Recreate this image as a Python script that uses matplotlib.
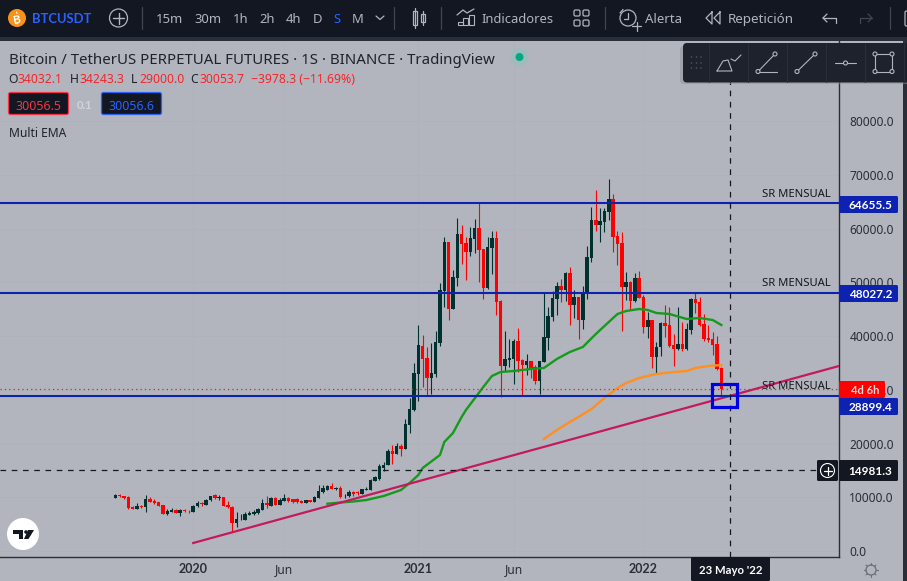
import matplotlib
matplotlib.use("Agg")
import matplotlib.pyplot as plt
import numpy as np
from matplotlib.patches import Rectangle, FancyBboxPatch, Circle, Polygon

plt.rcParams['font.family'] = ['Noto Sans', 'DejaVu Sans']
BOLD = ['Lato', 'Liberation Sans', 'DejaVu Sans']

# weekly BTCUSDT perpetual candles
opens = [9926, 10484, 10298, 10112, 8128, 7880, 8376, 8252, 9678, 9306,
         9120, 8562, 6950, 7322, 7694, 7136, 7632, 7508, 7260, 8314,
         8872, 8624, 9430, 10360, 9926, 10050, 8562, 8252, 5276, 5896,
         5834, 6764, 6888, 7012, 7694, 8996, 8376, 9926, 8624, 9368,
         9926, 9616, 9616, 9368, 8996, 9430, 9120, 9864, 10980, 11414,
         12158, 11600, 11724, 10174, 10298, 10980, 10918, 10670, 11414, 11352,
         13088, 13336, 15444, 16064, 18605, 18047, 19535, 18977, 23442, 26233,
         32941, 38149, 35917, 32197, 32941, 38769, 48441, 57493, 45031, 50859,
         58981, 57369, 55633, 58051, 60097, 56191, 48937, 56377, 58237, 46519,
         34429, 35545, 35731, 39079, 35545, 34615, 35359, 34243, 31639, 35173,
         39637, 43543, 46891, 49309, 48565, 51727, 45775, 47263, 42985, 48007,
         54517, 61585, 60655, 61213, 63073, 65491, 58609, 57307, 49123, 50053,
         46519, 50797, 47263, 41683, 42985, 36103, 37963, 42427, 42055, 38335,
         37591, 38521, 37591, 41125, 46891, 46333, 42241, 39637, 39451, 38521,
         34032.1]
closes = [10484, 10298, 9864, 8004, 7880, 8376, 8252, 9616, 9182, 8996,
          8438, 6950, 7508, 7632, 7136, 7632, 7384, 7384, 8376, 8996,
          8686, 9554, 10236, 9864, 10050, 8438, 8190, 5276, 5958, 5958,
          6888, 7136, 7260, 7880, 8934, 8562, 9864, 8624, 9554, 9864,
          9244, 9182, 9120, 8996, 9430, 9120, 9988, 11166, 11662, 12096,
          11600, 11724, 9988, 10298, 11042, 10546, 10732, 11476, 11538, 13212,
          13708, 15816, 16064, 18668, 18047, 19535, 18977, 23628, 26419, 33127,
          38335, 35731, 32197, 33127, 38893, 48565, 57493, 45031, 50983, 58981,
          57121, 55633, 58237, 60097, 56005, 48937, 56563, 58237, 46333, 34429,
          35731, 35917, 39079, 35359, 34615, 35359, 33871, 31639, 35359, 39823,
          43729, 47077, 49309, 48565, 51727, 45775, 47263, 42985, 48193, 54703,
          61585, 60655, 61399, 63259, 65491, 58423, 57121, 49123, 50053, 46519,
          50797, 47077, 41683, 42985, 36103, 37963, 42427, 41869, 38149, 37591,
          38521, 37591, 41311, 46891, 46147, 42055, 39451, 39265, 38335, 33871,
          30053.7]
highs = [10608, 10670, 10298, 10236, 8438, 8872, 8562, 10422, 10050, 9616,
         9182, 8562, 7880, 7942, 7756, 7756, 7756, 7632, 8500, 9368,
         9058, 9678, 10298, 10670, 10422, 10112, 9306, 8314, 7198, 6950,
         7260, 7508, 7632, 8004, 9740, 10236, 9988, 9988, 9802, 10546,
         10050, 9740, 9802, 9492, 9492, 9492, 10236, 12282, 12282, 12282,
         12654, 11972, 12096, 10608, 11352, 11166, 11166, 11600, 11848, 13398,
         14018, 16188, 16498, 18916, 19721, 20093, 19907, 24559, 28466, 34977,
         42055, 40195, 38025, 38645, 40939, 49867, 58423, 57493, 52285, 61957,
         60655, 58423, 60283, 61771, 64933, 56191, 58423, 59539, 59539, 46705,
         40939, 39451, 39451, 41497, 35731, 36661, 35359, 34615, 35359, 48193,
         45403, 48379, 50053, 50611, 51913, 52843, 48565, 47263, 49309, 56749,
         64003, 67165, 63817, 63817, 69211, 66421, 59539, 59353, 51913, 50239,
         51727, 52099, 47635, 44473, 42985, 38893, 42613, 45775, 45403, 40381,
         45403, 42613, 42427, 47077, 48193, 47263, 44101, 42055, 40753, 40009,
         34243.3]
lows = [9802, 10112, 9616, 7880, 7818, 7756, 8004, 7322, 9120, 8748,
        8376, 6888, 6702, 7198, 7074, 6578, 7260, 7012, 7198, 8252,
        8376, 8562, 9368, 9678, 9554, 8376, 8004, 3602, 4470, 5772,
        5772, 6640, 6764, 6888, 7632, 8004, 8314, 8500, 8562, 9306,
        9120, 8996, 8996, 8934, 8934, 9058, 9058, 9802, 10856, 11290,
        11476, 11290, 9802, 9802, 10112, 10298, 10360, 10546, 11352, 11290,
        12964, 13212, 14948, 15940, 16186, 18047, 17675, 18977, 21954, 26047,
        27981, 30585, 28849, 29221, 32445, 38211, 45403, 42985, 45031, 49309,
        53401, 50425, 54889, 55447, 50053, 46891, 48751, 51541, 43915, 28663,
        33499, 34243, 31081, 33313, 28849, 32755, 32197, 31081, 29221, 35173,
        37405, 42799, 43915, 46333, 46519, 42055, 43357, 39451, 41249, 46891,
        53773, 59539, 57493, 59353, 61585, 55633, 53215, 40939, 46705, 45031,
        46333, 47077, 40567, 39637, 34057, 32941, 36289, 39823, 37963, 34429,
        37405, 37219, 37405, 40381, 44287, 41869, 39079, 38893, 36475, 33685,
        29000.0]

# Multi EMA sampled on the same week numbering
ema_green_w = [49, 52, 55, 58, 62, 66, 68, 70, 71, 75, 76, 78, 80, 81, 85, 87, 89, 92, 96, 99,
               102, 105, 108, 111, 114, 116, 118, 121, 123, 125, 128, 132, 135, 138, 140]
ema_green = [8800, 9023, 9210, 9489, 10233, 11349, 12651, 14140, 15442, 17861, 20279, 21954,
             24931, 26233, 30512, 32559, 33303, 33489, 33861, 34047, 35722, 37024, 37954, 40373,
             42605, 44094, 44652, 45024, 44838, 44280, 44094, 43164, 43350, 42977, 42047]
ema_orange_w = [99, 102, 105, 107, 110, 113, 116, 118, 121, 125, 129, 132, 134, 137, 140]
ema_orange = [20837, 22512, 24000, 24931, 26419, 28466, 30326, 31256, 32187, 32931,
              33303, 33489, 34047, 34419, 34605]

# drawn levels
sr_levels = [64655.5, 48027.2, 28899.4]
trend_w = [18, 167.17]
trend_p = [1488, 34419]
last_price = 30053.7
cross_price = 14981.3
cross_week = 142
x_ticks = [18, 39, 70, 92, 122]
x_labels = ['2020', 'Jun', '2021', 'Jun', '2022']
y_ticks = [0, 10000, 20000, 30000, 40000, 50000, 60000, 70000, 80000]

W, H = 907, 581
DARK = '#131722'
PANEL = '#1e222d'
BG = '#b2b5be'
GREY = '#b2b5be'
BLUE = '#0d22b0'
fig = plt.figure(figsize=(W / 100, H / 100), dpi=100, facecolor='#2a2e39')


def box(left, top, right, bottom):
    return [left / W, 1 - bottom / H, (right - left) / W, (bottom - top) / H]


# price scale background behind the main axes
back = fig.add_axes([0, 0, 1, 1], zorder=0)
back.set_xlim(0, W)
back.set_ylim(H, 0)
back.axis('off')
back.add_patch(Rectangle((0, 41), 903, 540, color=BG, lw=0))

ax = fig.add_axes(box(0, 41, 839, 557), zorder=1, facecolor=BG)
ax.set_xlim(-26.63, 167.17)
ax.set_ylim(-1116, 94885)

weeks = np.arange(len(opens))
o = np.array(opens)
c = np.array(closes)
colors = ['#ff0000' if c[i] < o[i] else '#01312e' for i in weeks]

ax.grid(True, color='#aeb1ba', lw=0.5)
ax.set_axisbelow(True)
ax.vlines(weeks, lows, highs, colors=colors, lw=0.8, zorder=3)
ax.bar(weeks, np.abs(c - o), bottom=np.minimum(o, c), width=0.8, color=colors, lw=0, zorder=3)
ax.plot(ema_green_w, ema_green, color='#169a1c', lw=1.7, zorder=4)
ax.plot(ema_orange_w, ema_orange, color='#ff9020', lw=1.7, zorder=4)
ax.plot(trend_w, trend_p, color='#c4195f', lw=1.6, zorder=5)
for lvl in sr_levels:
    ax.axhline(lvl, color=BLUE, lw=1.5, zorder=5)
ax.axhline(last_price, color='#e52020', lw=0.9, ls=(0, (1, 2.5)), zorder=5)
ax.plot([-26.63, 162.1], [cross_price, cross_price], color='#131722', lw=0.9, ls=(0, (4.5, 4.5)), zorder=5)
ax.axvline(cross_week, color='#131722', lw=0.9, ls=(0, (4.5, 4.5)), zorder=5)
ax.add_patch(Rectangle((137.8, 26790), 5.9, 4280, fill=False, ec='#0000e6', lw=2.3, zorder=6))
for lvl in sr_levels:
    ax.text(165.3, lvl + 650, 'SR MENSUAL', ha='right', va='bottom', fontsize=8.1, color='#15171d', zorder=6)

ax.yaxis.tick_right()
ax.set_yticks(y_ticks)
ax.set_yticklabels(['%.1f' % v for v in y_ticks])
ax.set_xticks(x_ticks)
ax.set_xticklabels(x_labels)
ax.tick_params(length=0, labelsize=8.6, labelcolor='#2a2e39')
ax.tick_params(axis='y', pad=7.5)
ax.tick_params(axis='x', pad=4)
for lbl, wt in zip(ax.get_xticklabels(), ['bold', 'normal', 'bold', 'normal', 'bold']):
    if wt == 'bold':
        lbl.set_family(BOLD)
        lbl.set_fontweight('bold')
        lbl.set_fontsize(9.0)
for s in ['top', 'left']:
    ax.spines[s].set_visible(False)
for s in ['right', 'bottom']:
    ax.spines[s].set_color('#2a2e39')
    ax.spines[s].set_linewidth(1.0)

# everything above the chart: toolbar, legend, price flags
top = fig.add_axes([0, 0, 1, 1], zorder=2)
top.set_xlim(0, W)
top.set_ylim(H, 0)
top.axis('off')
top.patch.set_alpha(0)


def tx(x, y, s, size=9.4, color=GREY, ha='left', **kw):
    if kw.get('fontweight') == 'bold':
        kw.setdefault('family', BOLD)
    top.text(x, y, s, fontsize=size, color=color, ha=ha, va='center_baseline', **kw)


def ln(xs, ys, color=GREY, lw=1.0, **kw):
    top.plot(xs, ys, color=color, lw=lw, solid_capstyle='round', **kw)


def flag(left, t, right, b, color, text, tcolor='white', size=8.5, round_=1.5):
    top.add_patch(FancyBboxPatch((left, t), right - left, b - t, boxstyle='round,pad=0,rounding_size=%s' % round_,
                                 fc=color, ec='none'))
    tx(right - 6, (t + b) / 2 + 0.2, text, size=size, color=tcolor, ha='right', fontweight='bold')


# top bar
top.add_patch(Rectangle((0, 0), W, 37, color=DARK, lw=0))
top.add_patch(Circle((17, 18), 9, color='#f7931a', lw=0))
# coin mark, no installed family has the bitcoin sign
tx(17, 18, 'B', size=8.5, color='white', ha='center', fontweight='bold', rotation=12)
ln([16.5, 17], [12, 13.5], color='white', lw=0.7)
ln([17.5, 17], [22.5, 24], color='white', lw=0.7)
tx(32, 18, 'BTCUSDT', size=9.4, color='#2962ff', fontweight='bold')
top.add_patch(Circle((118.5, 18), 9, fill=False, ec=GREY, lw=0.9))
ln([113, 124], [18, 18])
ln([118.5, 118.5], [12.5, 23.5])
for x in [142, 394, 441, 605, 890]:
    ln([x, x], [7, 29], color='#434651', lw=0.9)
intervals = ['15m', '30m', '1h', '2h', '4h', 'D', 'S', 'M']
interval_x = [156, 194, 233, 259, 286, 313, 333, 352]
for s, x in zip(intervals, interval_x):
    tx(x, 18, s, size=9.4, color='#2962ff' if s == 'S' else GREY)
ln([376, 380, 384], [16, 19.5, 16], lw=0.9)
# candle icon
top.add_patch(Rectangle((412.5, 11), 4, 14, fill=False, ec=GREY, lw=0.9))
ln([414.5, 414.5], [8, 28], lw=0.9)
top.add_patch(Rectangle((421, 14), 4, 8, fill=False, ec=GREY, lw=0.9))
ln([423, 423], [11, 25], lw=0.9)
# indicators icon
ln([457, 463, 467, 474], [15, 10, 13, 9], lw=0.9)
for x, t in [(457.5, 22), (463, 18), (468.5, 15)]:
    top.add_patch(Rectangle((x, t), 5, 25 - t, fill=False, ec=GREY, lw=0.8))
tx(481, 18, 'Indicadores', size=9.3)
for x in [574, 583]:
    for y in [10, 20]:
        top.add_patch(FancyBboxPatch((x, y), 6, 6, boxstyle='round,pad=0,rounding_size=1.5', fill=False, ec=GREY, lw=0.9))
# alarm icon
top.add_patch(Circle((628, 18), 8, fill=False, ec=GREY, lw=0.9))
ln([628, 628, 624], [13, 19, 19], lw=0.9)
ln([632, 641], [26, 26], lw=0.9)
ln([636.5, 636.5], [21.5, 30.5], lw=0.9)
ln([620, 623], [13, 9.5], lw=0.9)
tx(645, 18, 'Alerta', size=9.5)
top.plot([712, 706, 712, 712], [12, 18, 24, 12], color=GREY, lw=0.9)
top.plot([720, 714, 720, 720], [12, 18, 24, 12], color=GREY, lw=0.9)
tx(728, 18, 'Repetición', size=9.7)
ln([823, 828, 836, 836], [18, 18, 18, 23], lw=0.9)
ln([823, 827], [18, 14], lw=0.9)
ln([823, 827], [18, 22], lw=0.9)
ln([860, 860, 872], [23, 18, 18], color='#434651', lw=0.9)
ln([868, 872, 868], [14, 18, 22], color='#434651', lw=0.9)
top.add_patch(FancyBboxPatch((905, 11), 6, 15, boxstyle='round,pad=0,rounding_size=1.5', fill=False, ec=GREY, lw=0.9))
top.add_patch(Rectangle((903, 41), 4, 540, color='#2a2e39', lw=0))

# legend
tx(9, 58, 'Bitcoin / TetherUS PERPETUAL FUTURES · 1S · BINANCE · TradingView', size=10.8, color='#1f222b')
top.add_patch(Circle((519.5, 57), 9, color='#9fbcbc', lw=0))
top.add_patch(Circle((519.5, 57), 4, color='#05a883', lw=0))
RED = '#f7252a'
for x, s, col in [(8, 'O', '#1f222b'), (18, '34032.1', RED), (70, 'H', '#1f222b'), (79, '34243.3', RED),
                  (131, 'L', '#1f222b'), (139, '29000.0', RED), (190, 'C', '#1f222b'), (199, '30053.7', RED),
                  (251, '\u22123978.3 (\u221211.69%)', RED)]:
    tx(x, 78, s, size=8.8, color=col)
for left, ec, s, col in [(8.5, '#f23645', '30056.5', '#f23645'), (101.5, '#2962ff', '30056.6', '#2962ff')]:
    top.add_patch(FancyBboxPatch((left, 92.5), 60, 22, boxstyle='round,pad=0,rounding_size=2', fc=DARK, ec=ec, lw=0.9))
    tx(left + 30, 104.5, s, size=8.9, color=col, ha='center')
tx(85, 104.5, '0.1', size=8.0, color='#d1d4dc', ha='center', fontweight='bold')
tx(9, 132, 'Multi EMA', size=8.7, color='#1f222b')

# drawing tools panel
top.add_patch(FancyBboxPatch((680, 46), 240, 38, boxstyle='round,pad=0,rounding_size=4', fc='#8f929a', ec='none', alpha=0.5))
top.add_patch(FancyBboxPatch((683, 43), 240, 39.5, boxstyle='round,pad=0,rounding_size=4', fc=PANEL, ec='none'))
for x in [708.5, 747.5, 786.5, 825.5, 864.5, 903.5]:
    ln([x, x], [43, 82], color='#2a2e39', lw=0.8)
for x in [691.5, 696.5, 701]:
    for y in [57, 63, 68]:
        top.add_patch(Circle((x, y), 0.8, color='#50535e', lw=0))
ICON = '#b2b5be'
ln([717, 723, 728, 732, 717], [71, 61, 60, 71, 71], color=ICON, lw=0.8)
ln([731, 735, 741], [59, 61, 55], color=ICON, lw=0.8)
ln([758, 775], [71.5, 54], color=ICON, lw=0.8)
ln([758, 777], [71.5, 71.5], color=ICON, lw=0.8)
ln([797, 815], [71.5, 54], color=ICON, lw=0.8)
ln([835, 856], [63, 63], color=ICON, lw=0.8)
ln([875, 892, 892, 875, 875], [54, 54, 71.5, 71.5, 54], color=ICON, lw=0.8)
for x, y in [(758, 71.5), (775, 54), (797, 71.5), (815, 54), (845.5, 63), (875, 54), (892, 54), (892, 71.5), (875, 71.5)]:
    top.add_patch(Circle((x, y), 2, fc=PANEL, ec=ICON, lw=0.8, zorder=5))

# price flags
flag(839, 196, 898, 213, BLUE, '64655.5')
flag(839, 285, 898, 302, BLUE, '48027.2')
flag(839, 381, 885, 398, '#ff0000', '4d 6h', tcolor='#f5d5d5', size=8.0)
flag(839, 398, 898, 415, BLUE, '28899.4')
flag(839, 460, 898, 481, DARK, '14981.3')
top.add_patch(FancyBboxPatch((817, 460), 21, 21, boxstyle='round,pad=0,rounding_size=1.5', fc=DARK, ec='none'))
top.add_patch(Circle((827.5, 470.5), 7, fill=False, ec='white', lw=0.8))
ln([823.5, 831.5], [470.5, 470.5], color='white', lw=0.9)
ln([827.5, 827.5], [466.5, 474.5], color='white', lw=0.9)

# crosshair date and gear
top.add_patch(FancyBboxPatch((691, 557), 79, 24, boxstyle='round,pad=0,rounding_size=1.5', fc=DARK, ec='none'))
tx(730.5, 570, "23 Mayo '22", size=8.2, color='white', ha='center', fontweight='bold')
top.add_patch(Circle((871, 570), 5, fill=False, ec='#6a6d78', lw=0.9))
for a in np.arange(0, 360, 45):
    ca, sa = np.cos(np.radians(a)), np.sin(np.radians(a))
    ln([871 + 5 * ca, 871 + 7 * ca], [570 + 5 * sa, 570 + 7 * sa], color='#6a6d78', lw=0.8)

# TradingView badge
top.add_patch(Circle((23, 534), 16, color='white', lw=0))
top.add_patch(Polygon([(13, 530), (23, 530), (23, 539), (19, 539), (19, 534), (13, 534)], color=DARK, lw=0))
top.add_patch(Circle((26, 532), 1.8, color=DARK, lw=0))
top.add_patch(Polygon([(28, 530), (34, 530), (28.5, 539), (24, 539)], color=DARK, lw=0))

fig.savefig('out.png', dpi=100, facecolor=fig.get_facecolor())
